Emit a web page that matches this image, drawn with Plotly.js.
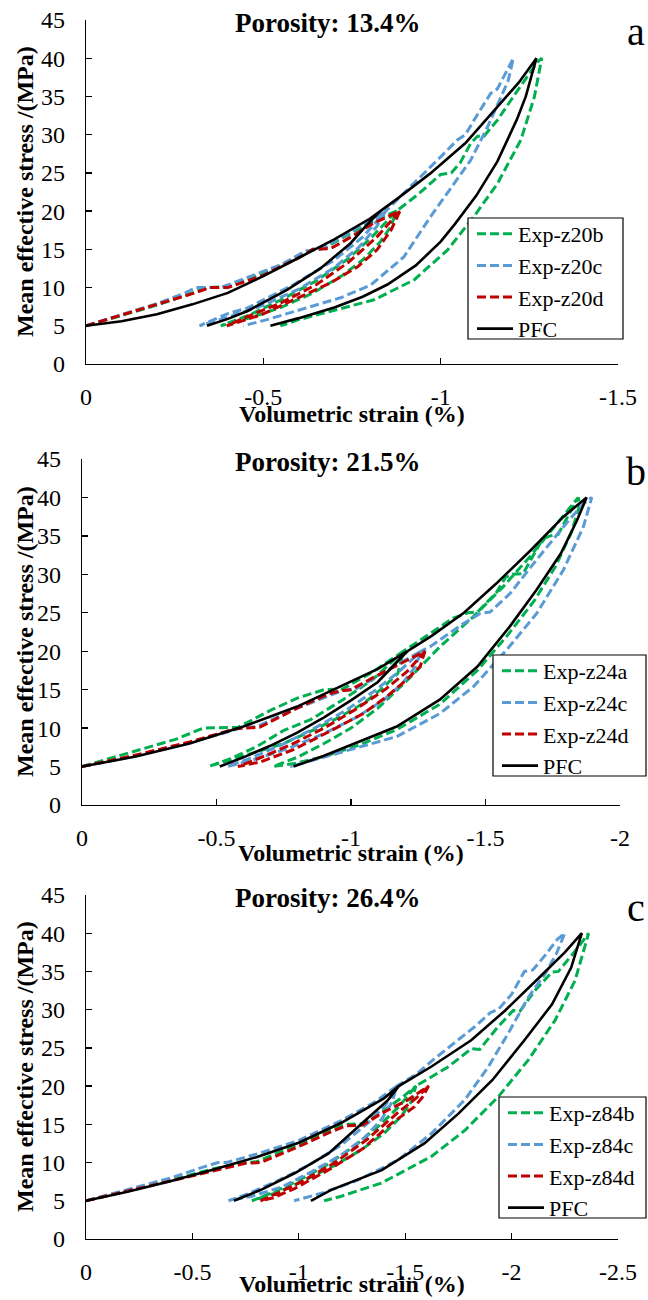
<!DOCTYPE html>
<html>
<head>
<meta charset="utf-8">
<script src="https://cdn.plot.ly/plotly-3.0.1.min.js"></script>
<style>
  html, body { margin: 0; padding: 0; background: #fff; }
  #chart { width: 648px; height: 1300px; }
</style>
</head>
<body>
<div id="chart"></div>
<script>
// ---------- series names ----------
const namesA = ['Exp-z20b', 'Exp-z20c', 'Exp-z20d', 'PFC'];
const namesB = ['Exp-z24a', 'Exp-z24c', 'Exp-z24d', 'PFC'];
const namesC = ['Exp-z84b', 'Exp-z84c', 'Exp-z84d', 'PFC'];
const titles = ['Porosity: 13.4%', 'Porosity: 21.5%', 'Porosity: 26.4%'];
const panelLetters = ['a', 'b', 'c'];

// ---------- tick labels ----------
const stressTicks = [0, 5, 10, 15, 20, 25, 30, 35, 40, 45];
const strainTicksA = [0, -0.5, -1, -1.5];
const strainTextA = ['0', '-0.5', '-1', '-1.5'];
const strainTicksB = [0, -0.5, -1, -1.5, -2];
const strainTextB = ['0', '-0.5', '-1', '-1.5', '-2'];
const strainTicksC = [0, -0.5, -1, -1.5, -2, -2.5];
const strainTextC = ['0', '-0.5', '-1', '-1.5', '-2', '-2.5'];

// ---------- panel a : porosity 13.4 % (volumetric strain %, mean effective stress MPa) ----------
const a_z20b_strain = [0,-0.1,-0.2,-0.3,-0.34,-0.40,-0.5,-0.6,-0.64,-0.67,-0.75,-0.82,-0.875,
  -0.86,-0.83,-0.78,-0.72,-0.64,-0.55,-0.46,-0.38,
  -0.46,-0.55,-0.65,-0.74,-0.81,-0.875,
  -0.934,-1.0,-1.03,-1.056,-1.085,-1.104,-1.122,-1.16,-1.217,-1.273,-1.285,
  -1.264,-1.226,-1.16,-1.094,-1.019,-0.925,-0.812,-0.69,-0.6,-0.548];
const a_z20b_stress = [5,6.3,7.7,9.3,10,10.1,11.9,14.0,15,15.1,17.2,18.9,20,
  18,16,13.6,11.5,9.3,7.4,6.0,5.0,
  6.4,8.4,10.9,13.8,16.8,20,
  22.1,24.8,25,26.4,28.9,29.8,29.8,31.9,35.8,39.5,40,
  34.9,29.3,23.6,19.3,14.9,11.0,8.4,6.9,5.8,5];

const a_z20c_strain = [0,-0.1,-0.2,-0.28,-0.31,-0.38,-0.45,-0.55,-0.62,-0.66,-0.73,-0.8,-0.845,
  -0.82,-0.77,-0.7,-0.6,-0.5,-0.4,-0.32,
  -0.4,-0.454,-0.586,-0.7,-0.78,-0.845,
  -0.92,-1.0,-1.047,-1.07,-1.094,-1.141,-1.16,-1.198,-1.205,
  -1.19,-1.169,-1.132,-1.085,-1.038,-0.972,-0.896,-0.802,-0.72,-0.6,-0.51,-0.444];
const a_z20c_stress = [5,6.5,7.9,9.3,10,10,11.2,13,14.8,15,16.8,18.8,20,
  18,15.3,12.6,9.8,7.7,6.1,5,
  6.6,7.3,10.4,13.6,16.6,20,
  23.4,27.1,29.3,30,31.9,35.4,36,39.5,40,
  37,34.9,31.0,26.7,23.6,19.3,14.0,10.3,8.7,7.0,5.8,5];

const a_z20d_strain = [0,-0.1,-0.2,-0.3,-0.35,-0.40,-0.5,-0.6,-0.64,-0.69,-0.75,-0.81,-0.885,
  -0.86,-0.82,-0.765,-0.689,-0.586,-0.492,-0.397,
  -0.45,-0.55,-0.65,-0.74,-0.82,-0.885];
const a_z20d_stress = [5,6.4,7.7,9.2,10,10,11.6,13.9,15,15.1,16.7,18.4,20,
  17.5,14.9,12.7,10.6,8.4,6.4,5,
  6.1,8.0,10.4,13.3,16.6,20];

const a_pfc_strain = [0,-0.1,-0.2,-0.3,-0.4,-0.5,-0.6,-0.7,-0.8,-0.83,
  -0.79,-0.746,-0.661,-0.567,-0.454,-0.4,-0.341,
  -0.4,-0.454,-0.567,-0.661,-0.746,-0.79,-0.83,
  -0.88,-0.97,-1.07,-1.16,-1.22,-1.27,
  -1.24,-1.215,-1.16,-1.1,-1.04,-1.0,-0.93,-0.85,-0.78,-0.7,-0.6,-0.52];
const a_pfc_stress = [5,5.6,6.5,7.8,9.3,11.5,13.9,16.3,19.0,20,
  18.1,15.8,12.5,9.7,6.9,5.9,5,
  5.9,6.9,9.7,12.5,15.8,18.1,20,
  21.7,24.9,28.9,33.6,36.8,40,
  35,32,26.5,22,18.3,16,12.9,10.4,8.8,7.4,6.0,5];

// ---------- panel b : porosity 21.5 % ----------
const b_z24a_strain = [0,-0.166,-0.353,-0.45,-0.58,-0.7,-0.8,-0.9,-0.97,-1.08,-1.195,
  -1.174,-1.11,-1.05,-0.95,-0.851,-0.75,-0.62,-0.53,-0.47,
  -0.55,-0.65,-0.75,-0.85,-0.97,-1.08,-1.195,
  -1.3,-1.38,-1.435,-1.47,-1.54,-1.574,-1.6,-1.64,-1.68,-1.712,-1.74,-1.77,-1.81,-1.845,
  -1.85,-1.82,-1.76,-1.68,-1.58,-1.47,-1.33,-1.17,-1.03,-0.9,-0.79,-0.71,
  -0.8,-0.9,-1.0,-1.1,-1.22,-1.331,-1.455,-1.566,-1.665,-1.765,-1.845];
const b_z24a_stress = [5,6.7,8.6,10,10.1,12.3,13.9,15,15.1,17.3,20,
  17.1,15.0,13.3,11.3,9.6,8.0,6.6,5.6,5,
  6.0,7.6,9.7,11.1,13.7,16.3,20,
  22.4,24.3,25,25.1,27.6,29.6,30,30.1,32.6,34.6,35,35.2,37.8,40,
  39,35.5,31,26.5,22,17.5,13.1,9.8,7.8,6.3,5.4,5,
  6.2,8.0,10.0,12.6,16.6,20.6,24.5,28.4,32.3,36.6,40];

const b_z24c_strain = [0,-0.2,-0.4,-0.6,-0.65,-0.8,-0.97,-1.02,-1.12,-1.2,-1.26,
  -1.24,-1.19,-1.12,-1.02,-0.9,-0.77,-0.63,-0.54,
  -0.62,-0.74,-0.86,-0.98,-1.09,-1.18,-1.26,
  -1.294,-1.418,-1.48,-1.517,-1.591,-1.69,-1.79,-1.864,-1.895,
  -1.864,-1.79,-1.69,-1.579,-1.455,-1.331,-1.17,-1.08,-0.93,-0.774];
const b_z24c_stress = [5,6.4,8.1,10.1,10.2,12.6,14.9,15.1,17.2,18.8,20,
  18,15.8,13.6,11.4,9.3,7.4,5.8,5,
  6.0,7.8,9.9,12.3,14.9,17.4,20,
  20.6,23.6,24.9,25.1,27.5,31.9,36.2,39.2,40,
  36.2,30.6,24.9,20.2,15.4,11.9,8.9,8.0,6.5,5];

const b_z24d_strain = [0,-0.2,-0.4,-0.57,-0.6,-0.66,-0.8,-0.92,-0.97,-1.0,-1.1,-1.2,-1.275,
  -1.257,-1.207,-1.133,-1.046,-0.922,-0.786,-0.663,-0.58,
  -0.66,-0.78,-0.9,-1.02,-1.13,-1.21,-1.275];
const b_z24d_stress = [5,6.5,8.2,9.9,10,10.1,12.6,14.5,14.9,15,16.9,18.7,20,
  18.0,16.3,14.1,11.9,9.6,7.2,5.6,5,
  6.1,7.9,10.0,12.5,15.1,17.4,20];

const b_pfc_strain = [0,-0.2,-0.4,-0.6,-0.8,-1.0,-1.1,-1.21,
  -1.17,-1.1,-1.0,-0.9,-0.8,-0.7,-0.6,-0.512,
  -0.6,-0.7,-0.8,-0.9,-1.0,-1.1,-1.17,-1.21,
  -1.3,-1.42,-1.54,-1.67,-1.79,-1.876,
  -1.84,-1.78,-1.69,-1.59,-1.47,-1.33,-1.17,-1.03,-0.9,-0.786];
const b_pfc_stress = [5,6.3,8.0,10.2,12.8,16.0,17.7,20,
  18.6,16.0,13.6,11.4,9.4,7.7,6.2,5,
  6.2,7.7,9.4,11.4,13.6,16.0,18.6,20,
  22,25,28.8,33.2,37.5,40,
  37,32.7,28,23.2,18,13.7,10.2,8.2,6.4,5];

// ---------- panel c : porosity 26.4 % ----------
const c_z84b_strain = [0,-0.2,-0.4,-0.6,-0.74,-0.8,-1.0,-1.15,-1.22,-1.3,-1.4,-1.48,-1.55,
  -1.53,-1.48,-1.4,-1.29,-1.16,-1.02,-0.9,-0.78,
  -0.86,-0.98,-1.12,-1.26,-1.38,-1.47,-1.55,
  -1.62,-1.701,-1.77,-1.811,-1.85,-1.937,-2.008,-2.039,-2.11,-2.189,-2.22,-2.314,-2.362,
  -2.298,-2.204,-2.078,-1.937,-1.78,-1.623,-1.387,-1.2,-1.119];
const c_z84b_stress = [5,6.3,7.7,9.2,10,10.1,12.4,14.4,15,15.1,16.8,18.4,20,
  18,16,13.8,11.6,9.5,7.6,6.1,5,
  5.9,7.4,9.5,12.1,14.9,17.3,20,
  21.2,22.5,24,24.9,24.8,27.8,29.9,29.8,32.5,34.9,35.0,38.2,40,
  33.8,28.6,23.4,18.6,14.2,10.8,7.3,5.6,5];

const c_z84c_strain = [0,-0.2,-0.4,-0.55,-0.62,-0.66,-0.8,-1.0,-1.2,-1.35,-1.46,
  -1.44,-1.39,-1.31,-1.2,-1.06,-0.92,-0.78,-0.67,
  -0.76,-0.9,-1.05,-1.2,-1.33,-1.41,-1.46,
  -1.55,-1.634,-1.73,-1.828,-1.9,-1.94,-2.0,-2.06,-2.1,-2.16,-2.215,-2.25,
  -2.21,-2.158,-2.078,-1.984,-1.89,-1.78,-1.623,-1.465,-1.277,-1.12,-1.03,-0.978];
const c_z84c_stress = [5,6.5,8.0,9.4,10,10,11.1,12.9,15.5,17.8,20,
  18,15.7,13.3,11,8.8,6.8,5.6,5,
  5.9,7.6,9.7,12.3,15.3,17.6,20,
  21.5,23.5,25.6,27.8,29.6,30.1,32,35,35.2,37.2,39.2,40,
  37.3,34.7,31.6,26.9,22.5,18.2,13.8,10.3,7.7,6.1,5.4,5];

const c_z84d_strain = [0,-0.2,-0.4,-0.6,-0.75,-0.82,-1.0,-1.15,-1.22,-1.3,-1.387,-1.513,-1.61,
  -1.58,-1.544,-1.434,-1.3,-1.15,-0.98,-0.88,-0.82,
  -0.9,-1.02,-1.17,-1.32,-1.46,-1.55,-1.61];
const c_z84d_stress = [5,6.3,7.6,9.0,9.9,10,12.1,14.0,14.8,14.9,16.4,18.2,20,
  18.5,17.3,15.1,11.8,9.2,6.6,5.4,5,
  6.0,7.6,10,13,16.4,18.4,20];

const c_pfc_strain = [0,-0.2,-0.4,-0.6,-0.8,-1.0,-1.2,-1.4,-1.47,
  -1.42,-1.3,-1.14,-0.98,-0.82,-0.695,
  -0.82,-0.98,-1.14,-1.3,-1.42,-1.47,
  -1.62,-1.81,-1.97,-2.13,-2.25,-2.33,
  -2.28,-2.19,-2.06,-1.91,-1.75,-1.59,-1.39,-1.15,-1.057];
const c_pfc_stress = [5,6.2,7.6,9.1,10.7,12.6,15.2,18.4,20,
  18.2,15.2,11.2,8.6,6.4,5,
  6.4,8.6,11.2,15.2,18.2,20,
  22.5,26,29.9,34.2,37.5,40,
  35.5,30.7,26,20.8,16.4,12.5,9.0,6.4,5];

// ---------- styling ----------
const W = 648, H = 1300;
const SERIF = 'Liberation Serif, Times New Roman, serif';
const colors = ['#00B050', '#5B9BD5', '#C00000', '#000000'];
const px = v => v / W;          // pixel -> paper (x)
const py = v => 1 - v / H;      // pixel -> paper (y)

// plot-area rectangles in pixels: [left, right, top, bottom]
const boxes = [[86, 618, 20, 364], [82, 620, 459, 805], [86, 618, 895, 1239]];
// legend frames in pixels: [left, right, top, bottom]
const legendFrames = [[468, 623, 218, 339], [493, 646, 655, 776], [499, 646, 1097, 1218]];
// distance from the x axis line down to the centre of its title
const xTitleGap = [50, 48, 45];

const panels = [
  { names: namesA, xs: [a_z20b_strain, a_z20c_strain, a_z20d_strain, a_pfc_strain],
    ys: [a_z20b_stress, a_z20c_stress, a_z20d_stress, a_pfc_stress],
    range: [0, -1.5], tv: strainTicksA, tt: strainTextA },
  { names: namesB, xs: [b_z24a_strain, b_z24c_strain, b_z24d_strain, b_pfc_strain],
    ys: [b_z24a_stress, b_z24c_stress, b_z24d_stress, b_pfc_stress],
    range: [0, -2], tv: strainTicksB, tt: strainTextB },
  { names: namesC, xs: [c_z84b_strain, c_z84c_strain, c_z84d_strain, c_pfc_strain],
    ys: [c_z84b_stress, c_z84c_stress, c_z84d_stress, c_pfc_stress],
    range: [0, -2.5], tv: strainTicksC, tt: strainTextC }
];

const traces = [];
const layout = {
  width: W, height: H,
  margin: { l: 0, r: 0, t: 0, b: 0 },
  paper_bgcolor: '#fff', plot_bgcolor: '#fff',
  font: { family: SERIF, color: '#000' },
  annotations: [],
  shapes: []
};

panels.forEach((p, i) => {
  const k = i === 0 ? '' : String(i + 1);
  const [l, r, t, b] = boxes[i];
  const [fl, fr, ft, fb] = legendFrames[i];
  const legendKey = 'legend' + k;

  p.names.forEach((nm, j) => {
    const isModel = j === 3;
    traces.push({
      type: 'scatter', mode: 'lines', name: nm,
      x: p.xs[j], y: p.ys[j],
      xaxis: 'x' + k, yaxis: 'y' + k, legend: legendKey,
      line: isModel ? { color: colors[j], width: 2.6 }
                    : { color: colors[j], width: 3, dash: '9px,4px' },
      hoverinfo: 'skip'
    });
  });

  const axisCommon = {
    ticks: 'inside', ticklen: 6, tickwidth: 1.3, tickcolor: '#000',
    showline: true, linecolor: '#000', linewidth: 1.3,
    showgrid: false, zeroline: false, automargin: false, fixedrange: true,
    tickfont: { family: SERIF, size: 24, color: '#000' }
  };

  layout['xaxis' + k] = Object.assign({}, axisCommon, {
    domain: [px(l), px(r)], range: p.range, anchor: 'y' + k,
    tickmode: 'array', tickvals: p.tv, ticktext: p.tt,
    ticklabelstandoff: 11
  });
  layout['yaxis' + k] = Object.assign({}, axisCommon, {
    domain: [py(b), py(t)], range: [0, 45], anchor: 'x' + k,
    tickmode: 'array', tickvals: stressTicks,
    ticklabelstandoff: 15
  });

  // white framed box behind the legend entries
  layout.shapes.push({
    type: 'rect', xref: 'paper', yref: 'paper', layer: 'above',
    x0: px(fl), x1: px(fr), y0: py(fb), y1: py(ft),
    fillcolor: '#fff', line: { color: '#000', width: 1.2 }
  });
  layout[legendKey] = {
    x: px(fl + 4), y: py(ft - 5), xanchor: 'left', yanchor: 'top',
    bgcolor: 'rgba(0,0,0,0)', borderwidth: 0, itemwidth: 36,
    font: { family: SERIF, size: 22, color: '#000' },
    tracegroupgap: 0
  };

  const cx = (l + r) / 2, cy = (t + b) / 2;
  layout.annotations.push(
    { text: '<b>' + titles[i] + '</b>', xref: 'paper', yref: 'paper',
      x: px(327), y: py(t + 3), xanchor: 'center', yanchor: 'middle',
      showarrow: false, font: { family: SERIF, size: 27, color: '#000' } },
    { text: '<b>Volumetric strain (%)</b>', xref: 'paper', yref: 'paper',
      x: px(cx), y: py(b + xTitleGap[i]), xanchor: 'center', yanchor: 'middle',
      showarrow: false, font: { family: SERIF, size: 24, color: '#000' } },
    { text: '<b>Mean effective stress /(MPa)</b>', xref: 'paper', yref: 'paper',
      x: px(25), y: py(cy), xanchor: 'center', yanchor: 'middle', textangle: -90,
      showarrow: false, font: { family: SERIF, size: 24, color: '#000' } },
    { text: panelLetters[i], xref: 'paper', yref: 'paper',
      x: px(636), y: py(t + 12), xanchor: 'center', yanchor: 'middle',
      showarrow: false, font: { family: SERIF, size: 40, color: '#000' } }
  );
});

Plotly.newPlot('chart', traces, layout, { displayModeBar: false, staticPlot: true });
</script>
</body>
</html>
